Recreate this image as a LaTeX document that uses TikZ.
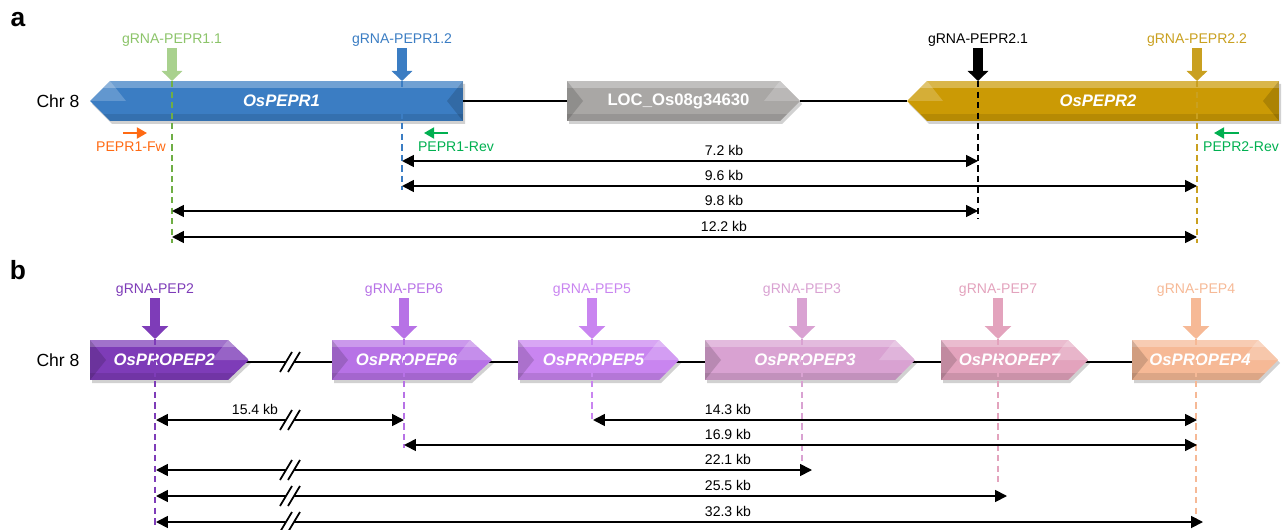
\documentclass[tikz,border=0pt]{standalone}
\usepackage{fontspec}
\setmainfont{Liberation Sans}
\usetikzlibrary{arrows.meta,calc}
\definecolor{PeprBlue}{HTML}{3B7DC3}
\definecolor{PeprGold}{HTML}{CB9A05}
\definecolor{LocGray}{HTML}{A9A7A5}
\definecolor{GuideGreen}{HTML}{A9D18E}
\definecolor{CutGreen}{HTML}{6FAE45}
\definecolor{LabGreen}{HTML}{8CC46A}
\definecolor{GuideGold}{HTML}{C9A020}
\definecolor{FwOrange}{HTML}{FF6A13}
\definecolor{RevGreen}{HTML}{00B050}
\definecolor{PepTwo}{HTML}{7E3CB8}
\definecolor{PepSix}{HTML}{B772E6}
\definecolor{PepFive}{HTML}{C985F0}
\definecolor{PepThree}{HTML}{D9A2D2}
\definecolor{PepSeven}{HTML}{E3A3BD}
\definecolor{PepFour}{HTML}{F6B996}

% right-pointing gene: name, y, left, body end, tip, colour, label
\newcommand{\geneR}[7]{%
  \pgfmathsetmacro\gnT{#2-20}\pgfmathsetmacro\gnB{#2+20}%
  \pgfmathsetmacro\gnX{(2*#3+#4+#5)/4}%
  \fill[black,opacity=.18,shift={(2,3)}] (#3,\gnT) -- (#4,\gnT) -- (#5,#2) -- (#4,\gnB) -- (#3,\gnB) -- cycle;
  \begin{scope}
    \clip (#3,\gnT) -- (#4,\gnT) -- (#5,#2) -- (#4,\gnB) -- (#3,\gnB) -- cycle;
    \fill[#6] (#3,\gnT) rectangle (#5,\gnB);
    \fill[white,opacity=.28] (#3,\gnT) rectangle (#5,\gnT+7);
    \fill[black,opacity=.1] (#3,\gnB-7) rectangle (#5,\gnB);
    \fill[black,opacity=.15] (#3,\gnT) -- (#3+16,#2) -- (#3,\gnB) -- cycle;
    \fill[white,opacity=.2] (#4,\gnT) -- (#5,#2) -- (#4-16,#2) -- cycle;
  \end{scope}
  \coordinate (#1-w) at (#3,#2);
  \coordinate (#1-e) at (#5,#2);
  \node[gname] (#1) at (\gnX,#2) {#7};
}
% left-pointing gene: name, y, tip, body start, right, colour, label
\newcommand{\geneL}[7]{%
  \pgfmathsetmacro\gnT{#2-20}\pgfmathsetmacro\gnB{#2+20}%
  \pgfmathsetmacro\gnX{(2*#5+#4+#3)/4}%
  \fill[black,opacity=.18,shift={(2,3)}] (#3,#2) -- (#4,\gnT) -- (#5,\gnT) -- (#5,\gnB) -- (#4,\gnB) -- cycle;
  \begin{scope}
    \clip (#3,#2) -- (#4,\gnT) -- (#5,\gnT) -- (#5,\gnB) -- (#4,\gnB) -- cycle;
    \fill[#6] (#3,\gnT) rectangle (#5,\gnB);
    \fill[white,opacity=.28] (#3,\gnT) rectangle (#5,\gnT+7);
    \fill[black,opacity=.1] (#3,\gnB-7) rectangle (#5,\gnB);
    \fill[black,opacity=.15] (#5,\gnT) -- (#5-16,#2) -- (#5,\gnB) -- cycle;
    \fill[white,opacity=.2] (#4,\gnT) -- (#3,#2) -- (#4+16,#2) -- cycle;
  \end{scope}
  \coordinate (#1-w) at (#3,#2);
  \coordinate (#1-e) at (#5,#2);
  \node[gname] (#1) at (\gnX,#2) {#7};
}
% break sign on a line
\newcommand{\chrbreak}[2]{%
  \fill[white] (#1-9,#2+10) -- (#1+3,#2-10) -- (#1+11,#2-10) -- (#1-1,#2+10) -- cycle;
  \draw[line width=1pt] (#1-9,#2+10) -- (#1+3,#2-10) (#1-1,#2+10) -- (#1+11,#2-10);
}

\begin{document}
\begin{tikzpicture}[x=0.02cm,y=-0.02cm,
  panel/.style={font=\fontsize{15}{16}\selectfont\bfseries},
  chrlab/.style={font=\fontsize{10}{12}\selectfont},
  gname/.style={text=white,font=\fontsize{9.5}{11}\selectfont\bfseries\itshape},
  gtxt/.style={inner sep=1pt,font=\fontsize{8}{9}\selectfont},
  dlab/.style={inner sep=1pt,font=\fontsize{8}{9}\selectfont},
  chrom/.style={line width=1pt},
  guideA/.style={line width=6.2pt,-{Triangle[width=11.5pt,length=5.7pt]}},
  guideB/.style={line width=5.7pt,-{Triangle[width=14.7pt,length=7.4pt]}},
  cut/.style={line width=1.1pt,dash pattern=on 3.6pt off 2.4pt},
  dist/.style={line width=1pt,{Triangle[width=6.8pt,length=6.8pt]}-{Triangle[width=6.8pt,length=6.8pt]}},
  primer/.style={line width=1.2pt,-{Triangle[width=6.2pt,length=5.7pt]}}]
  \useasboundingbox (0,0) rectangle (1283,530);

  % panel a
  \node[panel] (pa) at (18,20) {a};
  \node[chrlab] (chra) at (58,101) {Chr 8};
  \geneL{pepr1}{101}{90}{110}{463}{PeprBlue}{OsPEPR1}
  \geneR{loc}{101}{567}{780}{800}{LocGray}{\upshape LOC\_Os08g34630}
  \geneL{pepr2}{101}{907}{927}{1279}{PeprGold}{OsPEPR2}
  \draw[chrom] (pepr1-e) -- (loc-w);
  \draw[chrom] (loc-e) -- (pepr2-w);

  \node[gtxt,text=LabGreen] (g11) at (172,40) {gRNA-PEPR1.1};
  \node[gtxt,text=PeprBlue] (g12) at (402,40) {gRNA-PEPR1.2};
  \node[gtxt,text=black] (g21) at (978,40) {gRNA-PEPR2.1};
  \node[gtxt,text=GuideGold] (g22) at (1197,40) {gRNA-PEPR2.2};
  \coordinate (g11t) at (172,81);  \coordinate (g11b) at (172,243);
  \coordinate (g12t) at (402,81);  \coordinate (g12b) at (402,190);
  \coordinate (g21t) at (978,81);  \coordinate (g21b) at (978,219);
  \coordinate (g22t) at (1197,81); \coordinate (g22b) at (1197,243);
  \draw[guideA,GuideGreen] (g11) -- (g11t);
  \draw[guideA,PeprBlue] (g12) -- (g12t);
  \draw[guideA,black] (g21) -- (g21t);
  \draw[guideA,GuideGold] (g22) -- (g22t);
  \draw[cut,CutGreen] (g11t) -- (g11b);
  \draw[cut,PeprBlue] (g12t) -- (g12b);
  \draw[cut,black] (g21t) -- (g21b);
  \draw[cut,GuideGold] (g22t) -- (g22b);

  \coordinate (fw1) at (123,133); \coordinate (fw2) at (147,133);
  \coordinate (rv1) at (448,133); \coordinate (rv2) at (424,133);
  \coordinate (rw1) at (1239,133); \coordinate (rw2) at (1214,133);
  \draw[primer,FwOrange] (fw1) -- (fw2);
  \draw[primer,RevGreen] (rv1) -- (rv2);
  \draw[primer,RevGreen] (rw1) -- (rw2);
  \node[gtxt,text=FwOrange] (pfw) at (131,147) {PEPR1-Fw};
  \node[gtxt,text=RevGreen] (prv) at (456,147) {PEPR1-Rev};
  \node[gtxt,text=RevGreen] (prw) at (1241,147) {PEPR2-Rev};

  \foreach \nm/\xa/\xb/\yy/\lab in {ra/402/978/161/7.2, rb/402/1197/186/9.6, rc/172/978/211/9.8, rd/172/1197/237/12.2}{
    \coordinate (\nm-l) at (\xa,\yy);
    \coordinate (\nm-r) at (\xb,\yy);
    \draw[dist] (\nm-l) -- (\nm-r);
    \node[dlab] (\nm) at (724,\yy-11) {\lab\ kb};
  }

  % panel b
  \node[panel] (pb) at (18,270) {b};
  \node[chrlab] (chrb) at (58,360) {Chr 8};
  \draw[chrom] (90,362) -- (1132,362);
  \chrbreak{289}{362}
  \geneR{pep2}{360}{90}{228}{249}{PepTwo}{OsPROPEP2}
  \geneR{pep6}{360}{332}{470}{492}{PepSix}{OsPROPEP6}
  \geneR{pep5}{360}{518}{659}{679}{PepFive}{OsPROPEP5}
  \geneR{pep3}{360}{705}{895}{915}{PepThree}{OsPROPEP3}
  \geneR{pep7}{360}{941}{1068}{1088}{PepSeven}{OsPROPEP7}
  \geneR{pep4}{360}{1132}{1258}{1278}{PepFour}{OsPROPEP4}

  \foreach \nm/\xx/\yb/\cc/\txt in {s2/155/527/PepTwo/2, s6/404/448/PepSix/6, s5/592/422/PepFive/5, s3/802/467/PepThree/3, s7/998/484/PepSeven/7, s4/1196/527/PepFour/4}{
    \node[gtxt,text=\cc] (\nm) at (\xx,290) {gRNA-PEP\txt};
    \coordinate (\nm t) at (\xx,339);
    \coordinate (\nm b) at (\xx,\yb);
    \draw[guideB,\cc] (\nm) -- (\nm t);
    \draw[cut,\cc] (\nm t) -- (\nm b);
  }

  \foreach \nm/\xa/\xb/\yy/\lx/\bk/\lab in {qa/156/404/420/255/1/15.4, qb/593/1197/420/728/0/14.3, qc/404/1197/445/728/0/16.9, qd/156/812/470/728/1/22.1, qe/156/1007/496/728/1/25.5, qf/156/1203/522/728/1/32.3}{
    \coordinate (\nm-l) at (\xa,\yy);
    \coordinate (\nm-r) at (\xb,\yy);
    \draw[dist] (\nm-l) -- (\nm-r);
    \ifnum\bk=1 \chrbreak{289}{\yy}\fi
    \node[dlab] (\nm) at (\lx,\yy-11) {\lab\ kb};
  }
\end{tikzpicture}
\end{document}
